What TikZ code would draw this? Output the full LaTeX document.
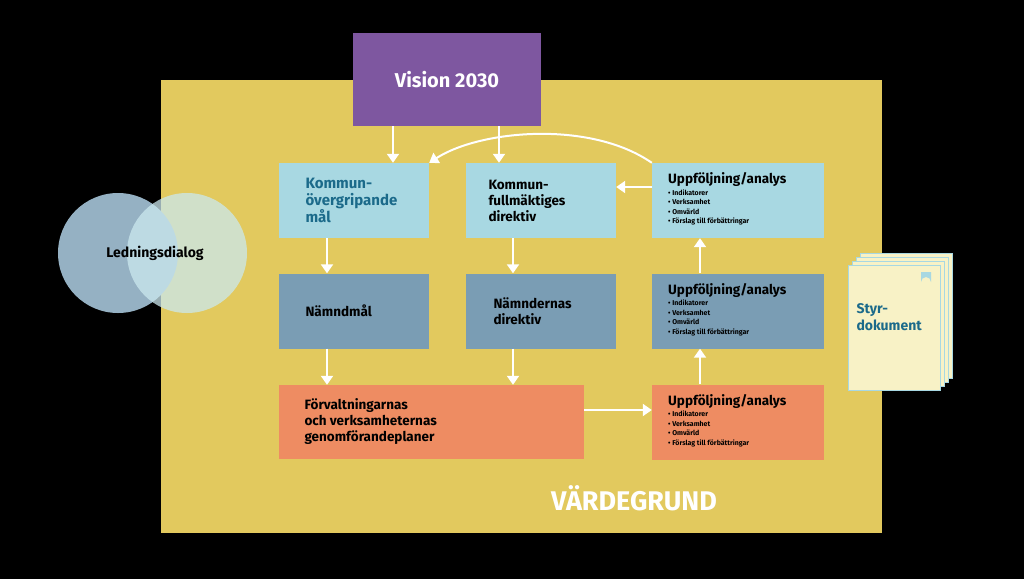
\documentclass[tikz,border=0pt]{standalone}
\usepackage{fontspec}
\setmainfont{Fira Sans}
\usetikzlibrary{arrows.meta}
\definecolor{ybg}{HTML}{E2C95E}
\definecolor{purp}{HTML}{7E57A0}
\definecolor{lblue}{HTML}{A8D8E2}
\definecolor{slate}{HTML}{7A9DB4}
\definecolor{orng}{HTML}{EE8C62}
\definecolor{teal}{HTML}{1B6A8A}
\definecolor{paper}{HTML}{F8F2C6}
\newcommand{\uppbox}[3]{%
  \node[minimum width=172pt,minimum height=75pt,inner sep=0pt,fill=#2] (#1) at (738,#3) {};
  \node[anchor=north west,align=left,inner sep=0pt,font=\bfseries\fontsize{13.5}{15}\selectfont] (#1t) at (668,#3-28) {Uppföljning/analys};
  \node[anchor=north west,align=left,inner sep=0pt,font=\bfseries\fontsize{7}{9.5}\selectfont] (#1l) at (668,#3-11) {• Indikatorer\\ • Verksamhet\\ • Omvärld\\ • Förslag till förbättringar};
}
\begin{document}
\begin{tikzpicture}[x=1pt,y=-1pt,
  arr/.style={draw=white,line width=2pt,-{Triangle[length=9pt,width=12pt]}}]
\useasboundingbox[fill=black] (0,0) rectangle (1024,579);
\fill[ybg] (161,80) rectangle (882,533);
\node[fill=purp,minimum width=188pt,minimum height=93pt,text=white,font=\bfseries\fontsize{20}{24}\selectfont] (vis) at (447,79.5) {Vision 2030};
\tikzset{bx/.style={minimum width=150pt,minimum height=75pt,inner sep=0pt}}
\node[bx,fill=lblue] (kom) at (354,200.5) {};
\node[anchor=west,align=left,text=teal,font=\bfseries\fontsize{15}{17}\selectfont] (komt) at (302,200.5) {Kommun-\\övergripande\\mål};
\node[bx,fill=lblue] (kf) at (541,200.5) {};
\node[anchor=west,align=left,font=\bfseries\fontsize{13.5}{16}\selectfont] (kft) at (485,200.5) {Kommun-\\fullmäktiges\\direktiv};
\node[bx,fill=slate] (nm) at (354,311) {};
\node[anchor=west,font=\bfseries\fontsize{13.5}{16}\selectfont] (nmt) at (302,311) {Nämndmål};
\node[bx,fill=slate] (nd) at (541,311) {};
\node[anchor=west,align=left,font=\bfseries\fontsize{13.5}{16}\selectfont] (ndt) at (490,311) {Nämndernas\\direktiv};
\node[fill=orng,minimum width=305pt,minimum height=74pt,inner sep=0pt] (fv) at (431.5,422) {};
\node[anchor=west,align=left,font=\bfseries\fontsize{13.5}{16}\selectfont] (fvt) at (301,422) {Förvaltningarnas\\och verksamheternas\\genomförandeplaner};
\uppbox{ua}{lblue}{200.5}
\uppbox{ub}{slate}{311}
\uppbox{uc}{orng}{422}
\node[text=white,font=\bfseries\fontsize{27}{30}\selectfont] (vg) at (634,498) {VÄRDEGRUND};
\fill[slate!80!white] (118,253) circle (60);
\fill[lblue!60!white,opacity=0.75] (187,253) circle (60);
\node[font=\bfseries\fontsize{14}{16}\selectfont] (ld) at (155,253) {Ledningsdialog};
\draw[draw=lblue,fill=paper,line width=0.8pt] (860,253) rectangle (952,378);
\draw[draw=lblue,fill=paper,line width=0.8pt] (856,257) rectangle (948,382);
\draw[draw=lblue,fill=paper,line width=0.8pt] (852,261) rectangle (944,386);
\draw[draw=lblue,fill=paper,line width=0.8pt] (848,265) rectangle (940,390);
\fill[lblue] (921,272) -- (931,272) -- (931,282) arc (0:-180:5) -- cycle;
\node[anchor=west,align=left,text=teal,font=\bfseries\fontsize{14}{17}\selectfont] (sd) at (853,317) {Styr-\\dokument};
\draw[arr] (vis.south -| 393,0) -- (kom.north -| 393,0);
\draw[arr] (vis.south -| 499,0) -- (kf.north -| 499,0);
\draw[arr] (ua.north west) .. controls (590,120) and (480,130) .. (kom.north east);
\draw[arr] (ua.west |- 0,187) -- (kf.east |- 0,187);
\draw[arr] (kom.south -| 327,0) -- (nm.north -| 327,0);
\draw[arr] (nm.south -| 327,0) -- (fv.north -| 327,0);
\draw[arr] (kf.south -| 513,0) -- (nd.north -| 513,0);
\draw[arr] (nd.south -| 513,0) -- (fv.north -| 513,0);
\draw[arr] (uc.north -| 700,0) -- (ub.south -| 700,0);
\draw[arr] (ub.north -| 700,0) -- (ua.south -| 700,0);
\draw[arr] (fv.east |- 0,410) -- (uc.west |- 0,410);
\end{tikzpicture}
\end{document}
